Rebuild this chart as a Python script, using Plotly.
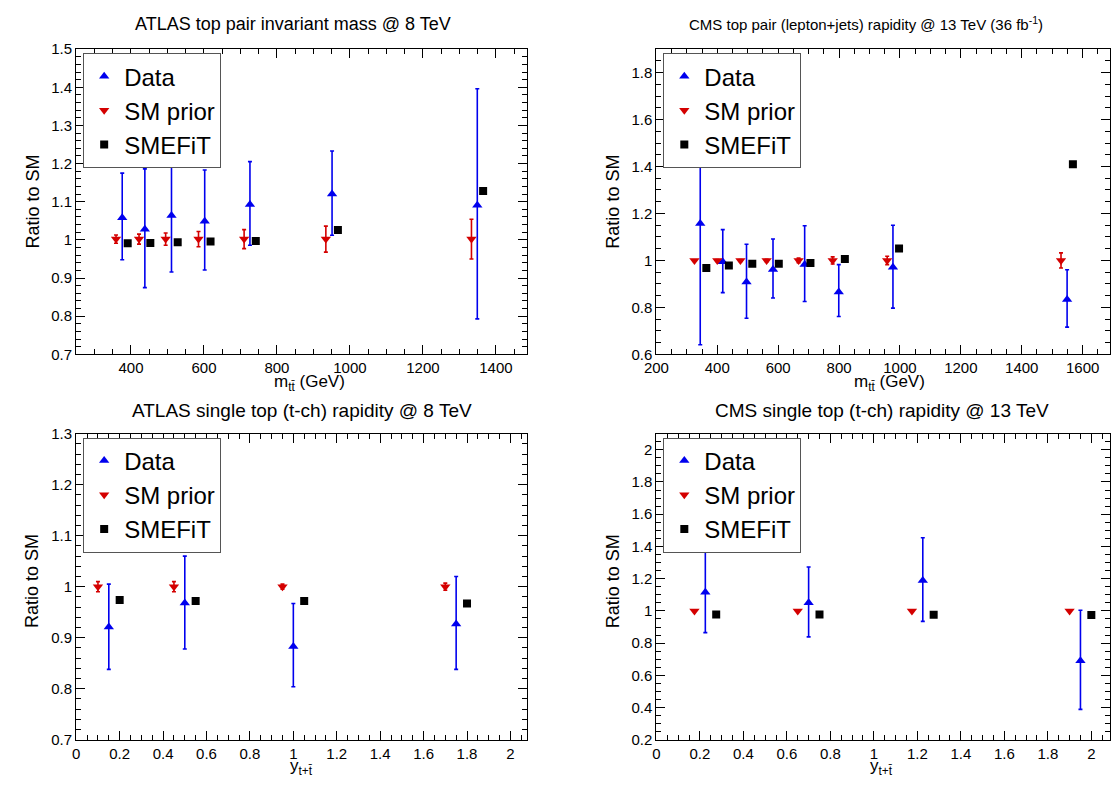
import plotly.graph_objects as go

# ---------------- Panel 1: ATLAS top pair invariant mass @ 8 TeV ----------------
p1_data_x = [376, 438, 511, 602, 726, 951, 1349]
p1_data_y = [1.058, 1.028, 1.064, 1.049, 1.093, 1.120, 1.091]
p1_data_up = [0.117, 0.158, 0.152, 0.134, 0.112, 0.113, 0.305]
p1_data_dn = [0.110, 0.153, 0.148, 0.128, 0.107, 0.108, 0.298]
p1_sm_x = [359, 422, 495, 585, 710, 934, 1333]
p1_sm_y = [1.002, 1.002, 1.002, 1.002, 1.002, 1.002, 1.002]
p1_sm_err = [0.011, 0.013, 0.016, 0.020, 0.025, 0.034, 0.052]
p1_fit_x = [391, 453, 528, 618, 742, 967, 1365]
p1_fit_y = [0.991, 0.992, 0.994, 0.996, 0.997, 1.026, 1.128]

# ---------------- Panel 2: CMS top pair (lepton+jets) @ 13 TeV ----------------
p2_data_x = [344, 418, 496, 583, 687, 799, 977, 1549]
p2_data_y = [1.157, 0.994, 0.908, 0.961, 0.983, 0.866, 0.971, 0.834]
p2_data_up = [0.516, 0.137, 0.161, 0.130, 0.165, 0.116, 0.179, 0.126]
p2_data_dn = [0.516, 0.131, 0.154, 0.121, 0.158, 0.105, 0.174, 0.118]
p2_sm_x = [325, 400, 476, 562, 667, 779, 958, 1529]
p2_sm_y = [1.0, 1.0, 1.0, 1.0, 1.0, 1.0, 1.0, 1.0]
p2_sm_err = [0.003, 0.004, 0.004, 0.005, 0.010, 0.015, 0.018, 0.032]
p2_fit_x = [364, 438, 515, 602, 706, 819, 997, 1568]
p2_fit_y = [0.968, 0.978, 0.986, 0.986, 0.989, 1.006, 1.051, 1.410]

# ---------------- Panel 3: ATLAS single top (t-ch) rapidity @ 8 TeV ----------------
p3_data_x = [0.15, 0.50, 1.00, 1.75]
p3_data_y = [0.921, 0.968, 0.883, 0.927]
p3_data_up = [0.084, 0.092, 0.084, 0.093]
p3_data_dn = [0.083, 0.090, 0.079, 0.089]
p3_sm_x = [0.10, 0.45, 0.95, 1.70]
p3_sm_y = [1.0, 1.0, 1.0, 1.0]
p3_sm_err = [0.010, 0.010, 0.005, 0.007]
p3_fit_x = [0.20, 0.55, 1.05, 1.80]
p3_fit_y = [0.974, 0.972, 0.972, 0.967]

# ---------------- Panel 4: CMS single top (t-ch) rapidity @ 13 TeV ----------------
p4_data_x = [0.225, 0.70, 1.225, 1.95]
p4_data_y = [1.115, 1.050, 1.188, 0.690]
p4_data_up = [0.260, 0.222, 0.266, 0.314]
p4_data_dn = [0.250, 0.211, 0.253, 0.301]
p4_sm_x = [0.175, 0.65, 1.175, 1.90]
p4_sm_y = [1.0, 1.0, 1.0, 1.0]
p4_sm_err = [0.002, 0.002, 0.002, 0.002]
p4_fit_x = [0.275, 0.75, 1.275, 2.00]
p4_fit_y = [0.978, 0.978, 0.976, 0.974]

panel_titles = [
    "ATLAS top pair invariant mass @ 8 TeV",
    "CMS top pair (lepton+jets) rapidity @ 13 TeV (36 fb<sup>-1</sup>)",
    "ATLAS single top (t-ch) rapidity @ 8 TeV",
    "CMS single top (t-ch) rapidity @ 13 TeV",
]
x_titles = ["m<sub>tt\u0304</sub> (GeV)", "m<sub>tt\u0304</sub> (GeV)",
            "y<sub>t+t\u0304</sub>", "y<sub>t+t\u0304</sub>"]
y_title = "Ratio to SM"
legend_names = ["Data", "SM prior", "SMEFiT"]

BLUE = "#0000ee"
RED = "#d40000"
BLACK = "#000000"
W, H = 1113, 785
FONT = "Liberation Sans, Arial, Helvetica"

panels = [
    dict(dx=p1_data_x, dy=p1_data_y, du=p1_data_up, dd=p1_data_dn,
         sx=p1_sm_x, sy=p1_sm_y, se=p1_sm_err, fx=p1_fit_x, fy=p1_fit_y,
         xr=[250, 1485], yr=[0.7, 1.5], xd=200, xm=50, yd=0.1, ym=0.02,
         px=(64, 520), py=(41, 353)),
    dict(dx=p2_data_x, dy=p2_data_y, du=p2_data_up, dd=p2_data_dn,
         sx=p2_sm_x, sy=p2_sm_y, se=p2_sm_err, fx=p2_fit_x, fy=p2_fit_y,
         xr=[200, 1690], yr=[0.6, 1.9], xd=200, xm=50, yd=0.2, ym=0.05,
         px=(651, 1110), py=(41, 353)),
    dict(dx=p3_data_x, dy=p3_data_y, du=p3_data_up, dd=p3_data_dn,
         sx=p3_sm_x, sy=p3_sm_y, se=p3_sm_err, fx=p3_fit_x, fy=p3_fit_y,
         xr=[0, 2.076], yr=[0.7, 1.3], xd=0.2, xm=0.05, yd=0.1, ym=0.02,
         px=(64, 520), py=(434, 747)),
    dict(dx=p4_data_x, dy=p4_data_y, du=p4_data_up, dd=p4_data_dn,
         sx=p4_sm_x, sy=p4_sm_y, se=p4_sm_err, fx=p4_fit_x, fy=p4_fit_y,
         xr=[0, 2.086], yr=[0.2, 2.1], xd=0.2, xm=0.05, yd=0.2, ym=0.05,
         px=(651, 1110), py=(434, 747)),
]

title_pos = [(283, 15, 18), (863, 15, 15), (292, 410, 19), (879, 410, 19)]
xtitle_pos = [(300, 369), (887, 369), (292, 762), (879, 762)]
ytitle_pos = [(20, 197), (607, 197), (20, 585), (607, 585)]

fig = go.Figure()
TICKFONT = dict(family=FONT, size=15, color="black")

annotations = []
for i, p in enumerate(panels):
    n = "" if i == 0 else str(i + 1)
    xa, ya = "x" + n, "y" + n
    leg = "legend" + n
    fig.add_trace(go.Scatter(
        x=p["dx"], y=p["dy"], mode="markers", name=legend_names[0],
        xaxis=xa, yaxis=ya, legend=leg,
        marker=dict(symbol="triangle-up", size=9, color=BLUE),
        error_y=dict(type="data", array=p["du"], arrayminus=p["dd"],
                     color=BLUE, thickness=1.6, width=2)))
    fig.add_trace(go.Scatter(
        x=p["sx"], y=p["sy"], mode="markers", name=legend_names[1],
        xaxis=xa, yaxis=ya, legend=leg,
        marker=dict(symbol="triangle-down", size=9, color=RED),
        error_y=dict(type="data", array=p["se"], color=RED, thickness=1.6, width=2)))
    fig.add_trace(go.Scatter(
        x=p["fx"], y=p["fy"], mode="markers", name=legend_names[2],
        xaxis=xa, yaxis=ya, legend=leg,
        marker=dict(symbol="square", size=8, color=BLACK)))

    x0, x1 = p["px"]
    y0, y1 = p["py"]
    common = dict(showline=True, linecolor="black", linewidth=1.2, mirror="allticks",
                  ticks="inside", ticklen=9, tickcolor="black", tickwidth=1,
                  showgrid=False, zeroline=False, tickfont=TICKFONT)
    fig.update_layout({
        "xaxis" + n: dict(domain=[x0 / W, x1 / W], range=p["xr"], anchor=ya,
                          tick0=0, dtick=p["xd"],
                          minor=dict(ticks="inside", ticklen=5, dtick=p["xm"], tick0=0,
                                     tickcolor="black", showgrid=False),
                          **common),
        "yaxis" + n: dict(domain=[1 - y1 / H, 1 - y0 / H], range=p["yr"], anchor=xa,
                          tick0=0, dtick=p["yd"],
                          minor=dict(ticks="inside", ticklen=5, dtick=p["ym"], tick0=0,
                                     tickcolor="black", showgrid=False),
                          **common),
        leg: dict(x=(x0 + 7) / W, y=1 - (y0 + 4) / H, xanchor="left", yanchor="top",
                  bgcolor="white", bordercolor="#555555", borderwidth=1,
                  font=dict(family=FONT, size=24, color="black"),
                  tracegroupgap=0, itemwidth=30),
    })

    tx, ty, ts = title_pos[i]
    annotations.append(dict(text=panel_titles[i], x=tx / W, y=1 - ty / H, xref="paper", yref="paper",
                            showarrow=False, xanchor="center", yanchor="middle",
                            font=dict(family=FONT, size=ts, color="black")))
    xx, xy = xtitle_pos[i]
    annotations.append(dict(text=x_titles[i], x=xx / W, y=1 - xy / H, xref="paper", yref="paper",
                            showarrow=False, xanchor="center", yanchor="top",
                            font=dict(family=FONT, size=17, color="black")))
    yx, yy = ytitle_pos[i]
    annotations.append(dict(text=y_title, x=yx / W, y=1 - yy / H, xref="paper", yref="paper",
                            showarrow=False, xanchor="center", yanchor="middle", textangle=-90,
                            font=dict(family=FONT, size=18, color="black")))

fig.update_layout(width=W, height=H, margin=dict(l=0, r=0, t=0, b=0),
                  paper_bgcolor="white", plot_bgcolor="white",
                  annotations=annotations, showlegend=True)

fig.write_html("out.html", config={"displayModeBar": False},
               post_script="document.body.style.margin='0';")
